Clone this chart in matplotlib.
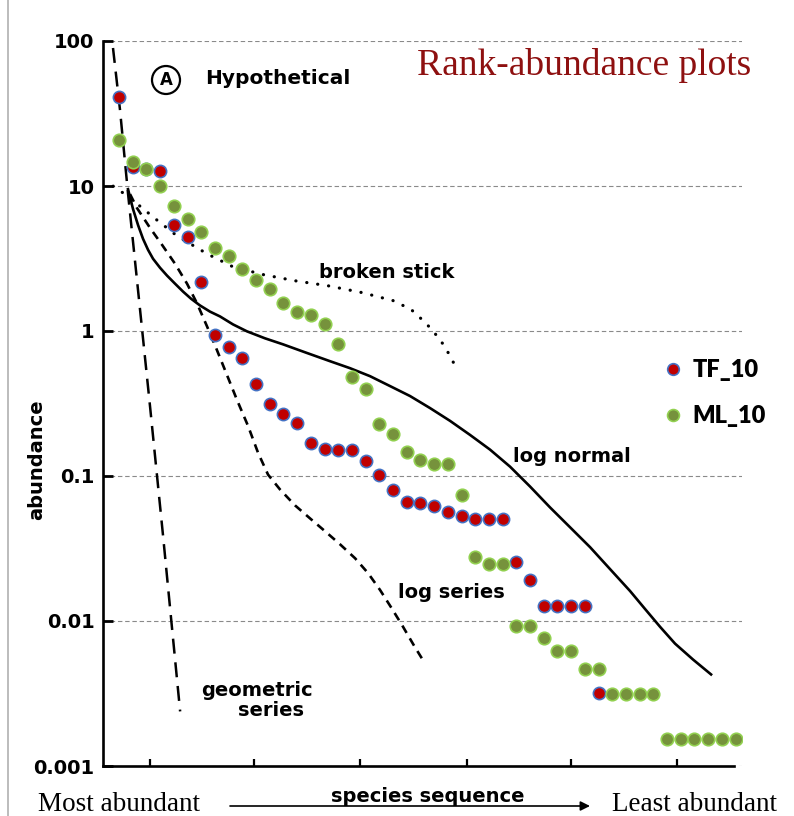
import matplotlib.pyplot as plt
from matplotlib.lines import Line2D
from matplotlib.ticker import NullLocator

W, H = 794, 816


def Fig(x, y):
    """ Pixel position in the picture -> figure fraction. """
    return x / W, 1 - y / H


# species rank for the two samples
TfRank = list(range(1, 37))
TfAbund = [41.3, 13.5, 13.2, 12.6, 5.4, 4.45, 2.19, 0.933, 0.771, 0.648, 0.430, 0.314,
           0.268, 0.232, 0.169, 0.154, 0.152, 0.152, 0.126, 0.102, 0.0807, 0.0658,
           0.0647, 0.0617, 0.0561, 0.0527, 0.0503, 0.0503, 0.0503, 0.0255, 0.0192,
           0.0127, 0.0127, 0.0127, 0.0127, 0.00317]

MlRank = list(range(1, 47))
MlAbund = [20.6, 14.6, 13.2, 10.0, 7.27, 5.92, 4.82, 3.74, 3.30, 2.69, 2.26, 1.96,
           1.55, 1.36, 1.28, 1.11, 0.809, 0.481, 0.398, 0.229, 0.195, 0.147, 0.129,
           0.1215, 0.1215, 0.0734, 0.0276, 0.0247, 0.0247, 0.00927, 0.00927, 0.00767,
           0.00625, 0.00625, 0.0047, 0.0047, 0.00312, 0.00312, 0.00312, 0.00312,
           0.00153, 0.00153, 0.00153, 0.00153, 0.00153, 0.00153]

# hypothetical model curves
GeoRank = [0.56, 1.07, 1.66, 2.39, 3.26, 4.21, 4.80, 5.46]
GeoAbund = [89.5, 33.6, 8.8, 1.90, 0.304, 0.039, 0.0104, 0.00238]

StickRank = [0.57, 1.22, 2.53, 3.77, 5.23, 7.42, 9.32, 11.51, 13.85, 16.26, 18.74,
             21.00, 22.31, 23.41, 24.43, 25.23, 25.60]
StickAbund = [9.97, 9.06, 7.26, 5.82, 4.53, 3.41, 2.77, 2.45, 2.22, 2.05, 1.84, 1.62,
              1.41, 1.13, 0.875, 0.659, 0.553]

NormRank = [1.657, 2.022, 2.387, 2.752, 3.117, 3.482, 3.993, 4.504, 5.088, 5.672,
            6.255, 6.912, 7.642, 8.372, 9.321, 10.343, 11.657, 12.971, 14.577, 16.401,
            17.861, 19.321, 20.781, 22.241, 23.701, 25.161, 26.620, 28.080, 29.540,
            31.000, 32.460, 33.920, 35.380, 36.839, 38.299, 39.394, 40.489, 41.584,
            42.898, 44.212]
NormAbund = [9.51, 6.93, 5.38, 4.32, 3.63, 3.15, 2.73, 2.41, 2.12, 1.87, 1.67, 1.50,
             1.36, 1.26, 1.11, 0.994, 0.890, 0.809, 0.713, 0.619, 0.554, 0.488, 0.417,
             0.356, 0.294, 0.240, 0.192, 0.152, 0.116, 0.0846, 0.0607, 0.0443, 0.0323,
             0.0228, 0.0161, 0.0121, 0.00912, 0.00698, 0.00542, 0.00428]

LogSerRank = [1.803, 2.314, 3.263, 4.139, 5.088, 5.964, 6.693, 7.423, 8.153, 8.883,
              9.613, 10.416, 11.146, 11.876, 12.752, 13.847, 14.942, 16.037, 17.131,
              18.226, 19.175, 20.051, 20.927, 21.730, 22.533, 23.336]
LogSerAbund = [8.79, 7.04, 5.14, 3.93, 2.91, 2.12, 1.55, 1.076, 0.736, 0.496, 0.334,
               0.2216, 0.1447, 0.1022, 0.0807, 0.0627, 0.0510, 0.0416, 0.0338, 0.0271,
               0.0214, 0.01637, 0.01213, 0.00912, 0.00676, 0.00509]

YTicks = [0.001, 0.01, 0.1, 1, 10, 100]
YTickLabels = ['0.001', '0.01', '0.1', '1', '10', '100']
XTicks = [3.27, 10.85, 18.58, 26.40, 33.99, 41.73]

Bold = dict(family='DejaVu Sans', weight='bold', color='black')

fig = plt.figure(figsize=(W / 100, H / 100), dpi=100)
ax = fig.add_axes([103 / W, 50 / H, 639 / W, 725 / H])

ax.plot(GeoRank, GeoAbund, color='black', lw=1.8, ls=(0, (6, 3.5)), zorder=2)
ax.plot(StickRank, StickAbund, color='black', lw=2.3, ls=(0, (0.05, 3.4)),
        dash_capstyle='round', zorder=2)
ax.plot(NormRank, NormAbund, color='black', lw=1.9, zorder=2)
ax.plot(LogSerRank, LogSerAbund, color='black', lw=1.9, ls=(0, (3.2, 2.4)), zorder=2)

TfLine, = ax.plot(TfRank, TfAbund, 'o', ls='none', ms=8.8, mfc='#C00000', mec='#4472C4',
                  mew=1.2, label='TF_10', zorder=3)
MlLine, = ax.plot(MlRank, MlAbund, 'o', ls='none', ms=9.0, mfc='#76923C', mec='#92D050',
                  mew=1.2, label='ML_10', zorder=4)

ax.set_yscale('log')
ax.set_ylim(0.001, 100)
ax.set_xlim(-0.17, 46.47)
ax.set_yticks(YTicks)
ax.set_yticklabels(YTickLabels)
ax.yaxis.set_minor_locator(NullLocator())
ax.set_xticks(XTicks)
ax.set_xticklabels([])
ax.tick_params(axis='y', direction='in', length=7, width=2, pad=6, labelsize=14)
ax.tick_params(axis='x', direction='in', length=5, width=1.6)
for Lbl in ax.get_yticklabels():
    Lbl.set_fontweight('bold')
    Lbl.set_family('DejaVu Sans')

ax.grid(axis='y', which='major', ls=(0, (4, 2.5)), color='#8a8a8a', lw=0.8, zorder=1)
ax.set_axisbelow(True)
for Side in ('top', 'right'):
    ax.spines[Side].set_visible(False)
ax.spines['left'].set_linewidth(1.9)
ax.spines['bottom'].set_linewidth(1.9)
ax.spines['bottom'].set_bounds(-0.17, 45.88)

ax.legend(handles=[TfLine, MlLine], loc='center left', bbox_to_anchor=Fig(664, 393),
          bbox_transform=fig.transFigure, frameon=False, borderpad=0, borderaxespad=0,
          handlelength=0.8, handletextpad=0.4, labelspacing=1.0, markerscale=0.95,
          prop=dict(family='Lato', weight='heavy', size=17))

# labels of the hypothetical curves
fig.text(*Fig(166, 80), 'A', ha='center', va='center', size=12, **Bold,
         bbox=dict(boxstyle='circle,pad=0.3', fc='white', ec='black', lw=1.6))
fig.text(*Fig(205, 79), 'Hypothetical', ha='left', va='center', size=14.5, **Bold)
fig.text(*Fig(387, 273), 'broken stick', ha='center', va='center', size=14, **Bold)
fig.text(*Fig(572, 456), 'log normal', ha='center', va='center', size=14, **Bold)
fig.text(*Fig(451, 593), 'log series', ha='center', va='center', size=14, **Bold)
fig.text(*Fig(257, 690), 'geometric', ha='center', va='center', size=14, **Bold)
fig.text(*Fig(271, 710), 'series', ha='center', va='center', size=14, **Bold)
fig.text(*Fig(428, 796), 'species sequence', ha='center', va='center', size=14, **Bold)
fig.text(*Fig(37, 460), 'abundance', ha='center', va='center', rotation=90, size=14, **Bold)

fig.text(*Fig(417, 75), 'Rank-abundance plots', ha='left', va='baseline',
         family='Liberation Serif', size=27, color='#8E1010')
fig.text(*Fig(38, 811), 'Most abundant', ha='left', va='baseline',
         family='Liberation Serif', size=19.5, color='black')
fig.text(*Fig(612, 811), 'Least abundant', ha='left', va='baseline',
         family='Liberation Serif', size=19.5, color='black')
fig.add_artist(plt.Annotation('', xy=Fig(590, 806), xytext=Fig(230, 806),
                              xycoords='figure fraction', textcoords='figure fraction',
                              arrowprops=dict(arrowstyle='-|>', color='black', lw=1.2,
                                              mutation_scale=14, shrinkA=0, shrinkB=0)))

# grey edge of the original slide
fig.add_artist(Line2D([8 / W, 8 / W], [0, 1], color='#b0b0b0', lw=1.2))

fig.savefig('out.png', dpi=100)
